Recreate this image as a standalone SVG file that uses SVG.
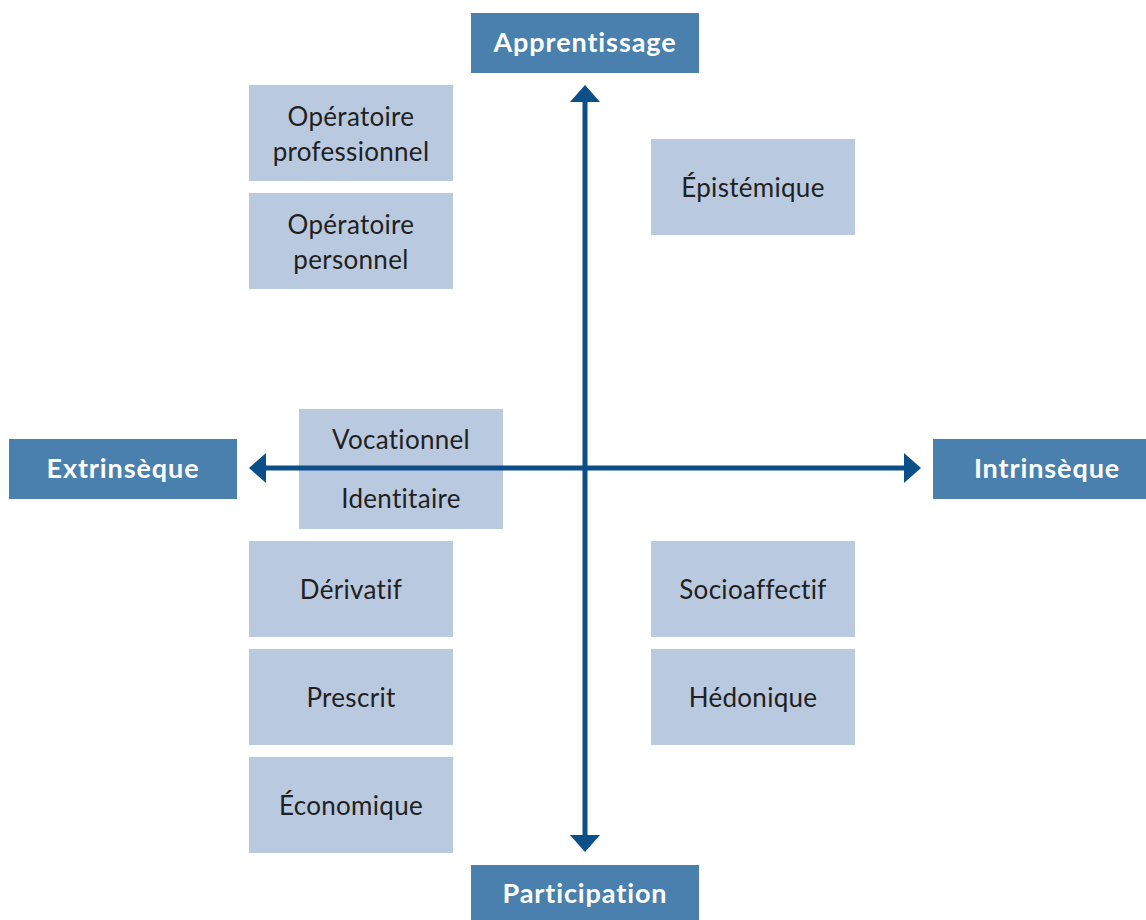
<svg xmlns="http://www.w3.org/2000/svg" width="1146" height="920" viewBox="0 0 1146 920">
<style>
.hdr{fill:#4a80ae}
.hdrt{fill:#ffffff;font-family:Lato,"Open Sans",sans-serif;font-weight:bold;font-size:27px;letter-spacing:0.9px;text-anchor:middle}
.node{fill:#b8c9e0}
.nt{fill:#231f20;font-family:Lato,"Open Sans",sans-serif;font-size:26px;letter-spacing:0.3px;text-anchor:middle}
.axis{stroke:#0b4f88;stroke-width:5;fill:none}
.head{fill:#0b4f88}
</style>
<rect width="1146" height="920" fill="#ffffff"/>
<g id="apprentissage"><rect class="hdr" x="471" y="13" width="228" height="60"/><text class="hdrt" x="585" y="52">Apprentissage</text></g>
<g id="participation"><rect class="hdr" x="471" y="865" width="228" height="60"/><text class="hdrt" x="585" y="903">Participation</text></g>
<g id="extrinseque"><rect class="hdr" x="9" y="439" width="228" height="60"/><text class="hdrt" x="123" y="478">Extrinsèque</text></g>
<g id="intrinseque"><rect class="hdr" x="933" y="439" width="228" height="60"/><text class="hdrt" x="1047" y="478">Intrinsèque</text></g>
<g id="op-pro"><rect class="node" x="249" y="85" width="204" height="96"/><text class="nt" x="351" y="126">Opératoire</text><text class="nt" x="351" y="161">professionnel</text></g>
<g id="op-perso"><rect class="node" x="249" y="193" width="204" height="96"/><text class="nt" x="351" y="234">Opératoire</text><text class="nt" x="351" y="269">personnel</text></g>
<g id="epistemique"><rect class="node" x="651" y="139" width="204" height="96"/><text class="nt" x="753" y="197">Épistémique</text></g>
<g id="voc-ident"><rect class="node" x="299" y="409" width="204" height="120"/><text class="nt" x="401" y="449">Vocationnel</text><text class="nt" x="401" y="508">Identitaire</text></g>
<g id="derivatif"><rect class="node" x="249" y="541" width="204" height="96"/><text class="nt" x="351" y="599">Dérivatif</text></g>
<g id="prescrit"><rect class="node" x="249" y="649" width="204" height="96"/><text class="nt" x="351" y="707">Prescrit</text></g>
<g id="economique"><rect class="node" x="249" y="757" width="204" height="96"/><text class="nt" x="351" y="815">Économique</text></g>
<g id="socioaffectif"><rect class="node" x="651" y="541" width="204" height="96"/><text class="nt" x="753" y="599">Socioaffectif</text></g>
<g id="hedonique"><rect class="node" x="651" y="649" width="204" height="96"/><text class="nt" x="753" y="707">Hédonique</text></g>
<g id="connectors">
<line class="axis" x1="585" y1="100" x2="585" y2="837"/>
<line class="axis" x1="264" y1="468" x2="906" y2="468"/>
<polygon class="head" points="585,85 600,102 570,102"/>
<polygon class="head" points="585,852 600,835 570,835"/>
<polygon class="head" points="249,468 266,453 266,483"/>
<polygon class="head" points="921,468 904,453 904,483"/>
</g>
</svg>
